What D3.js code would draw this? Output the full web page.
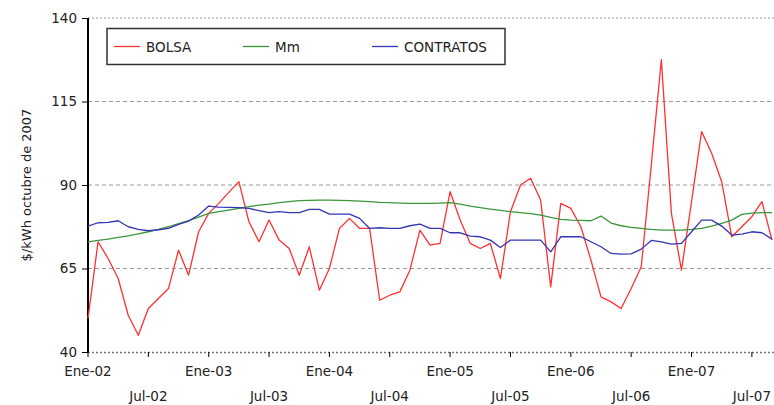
<!DOCTYPE html>
<html>
<head>
<meta charset="utf-8">
<script src="https://cdn.jsdelivr.net/npm/d3@7"></script>
<style>
  body { margin: 0; background: #fff; }
  svg { display: block; font-family: 'DejaVu Sans', Verdana, sans-serif; }
</style>
</head>
<body>
<div id="chart"></div>
<script>
// monthly values, Ene-02 .. Sep-07
const bolsa = [50, 73, 68, 62, 51, 45, 53, 56, 59, 70.5, 63, 76,
  81.5, 84.5, 87.8, 91, 79, 73, 79.5, 73.5, 71, 63, 71.5, 58.5,
  65, 77, 80, 77, 77, 55.5, 57, 58, 64.5, 76.5, 72, 72.5,
  88, 79.5, 72.5, 71, 72.5, 62, 82, 90, 92, 85.5, 59.5, 84.5,
  83, 77.5, 67.5, 56.5, 55, 53, 59, 65.5, 96, 127.5, 81.5, 64.5,
  85, 106, 99.5, 91, 74.5, 77.5, 80.5, 85, 73.5];
const mm = [73, 73.4, 73.8, 74.3, 74.8, 75.4, 76, 76.7, 77.5, 78.4, 79.3, 80.4,
  81.5, 82, 82.5, 83, 83.5, 84, 84.3, 84.7, 85, 85.3, 85.4, 85.5,
  85.5, 85.4, 85.3, 85.2, 85, 84.8, 84.7, 84.6, 84.5, 84.5, 84.5, 84.6,
  84.7, 84.3, 83.7, 83.2, 82.8, 82.4, 82, 81.7, 81.4, 81, 80.3, 79.7,
  79.5, 79.4, 79.3, 80.7, 78.6, 77.8, 77.3, 77, 76.7, 76.5, 76.5, 76.5,
  76.7, 77, 77.7, 78.5, 79.5, 81.2, 81.6, 81.7, 81.7];
const contratos = [77.7, 78.7, 78.8, 79.3, 77.5, 76.7, 76.3, 76.6, 77, 78.2, 79.2, 81,
  83.7, 83.4, 83.3, 83.2, 83, 82.3, 81.7, 82, 81.7, 81.7, 82.7, 82.7,
  81.3, 81.3, 81.3, 80, 77, 77.2, 77, 77, 77.8, 78.3, 77, 77,
  75.7, 75.7, 74.7, 74.5, 73.5, 71.3, 73.5, 73.5, 73.5, 73.5, 70, 74.5,
  74.5, 74.5, 73, 71.5, 69.5, 69.3, 69.4, 70.8, 73.4, 73, 72.3, 72.5,
  76, 79.5, 79.5, 77.7, 75, 75.3, 76, 75.7, 73.8];
const yTicks = [40, 65, 90, 115, 140];
const xTickLabels = ['Ene-02', 'Jul-02', 'Ene-03', 'Jul-03', 'Ene-04', 'Jul-04',
  'Ene-05', 'Jul-05', 'Ene-06', 'Jul-06', 'Ene-07', 'Jul-07'];
const seriesNames = ['BOLSA', 'Mm', 'CONTRATOS'];
const seriesColours = ['#ff3030', '#3a963a', '#3434b4'];

const width = 774, height = 405;
const plotLeft = 88, plotRight = 774, plotTop = 18, plotBottom = 352;

const svg = d3.select('#chart').append('svg')
  .attr('width', width)
  .attr('height', height);

const x = d3.scaleLinear().domain([0, 68]).range([plotLeft, 772]);
const y = d3.scaleLinear().domain([40, 140]).range([plotBottom, plotTop]);

// gridlines
svg.append('g')
  .selectAll('line')
  .data(yTicks.filter(d => d > 40))
  .join('line')
  .attr('x1', plotLeft).attr('x2', plotRight)
  .attr('y1', d => y(d)).attr('y2', d => y(d))
  .style('stroke', '#9a9a9a')
  .style('stroke-width', 1)
  .style('stroke-dasharray', d => d === 140 ? '2,2' : '4,3');

// x axis (dotted baseline + ticks)
svg.append('line')
  .attr('x1', plotLeft).attr('x2', plotRight)
  .attr('y1', plotBottom + 0.5).attr('y2', plotBottom + 0.5)
  .style('stroke', '#777')
  .style('stroke-width', 1.5)
  .style('stroke-dasharray', '2,2');

const xTicks = d3.range(0, 68, 6);
svg.append('g')
  .selectAll('line')
  .data(xTicks)
  .join('line')
  .attr('x1', d => x(d)).attr('x2', d => x(d))
  .attr('y1', plotBottom).attr('y2', plotBottom + 5)
  .style('stroke', '#000')
  .style('stroke-width', 1);

svg.append('g')
  .selectAll('text')
  .data(xTicks)
  .join('text')
  .attr('x', d => x(d))
  .attr('y', (d, i) => i % 2 === 0 ? 376 : 401)
  .attr('text-anchor', 'middle')
  .style('font-size', '13.5px')
  .style('fill', '#222')
  .text((d, i) => xTickLabels[i]);

// y axis
const yAxis = d3.axisLeft(y).tickValues(yTicks).tickSize(6).tickPadding(5);
const gy = svg.append('g')
  .attr('transform', 'translate(' + plotLeft + ',0)')
  .call(yAxis);
gy.select('.domain').remove();
gy.selectAll('.tick line').style('stroke', '#000');
gy.selectAll('.tick text')
  .style('font-size', '13.5px')
  .style('fill', '#222')
  .style('font-family', "'DejaVu Sans', Verdana, sans-serif");
svg.append('line')
  .attr('x1', plotLeft).attr('x2', plotLeft)
  .attr('y1', plotTop).attr('y2', plotBottom)
  .style('stroke', '#000')
  .style('stroke-width', 2);

svg.append('text')
  .attr('transform', 'translate(31,185) rotate(-90)')
  .attr('text-anchor', 'middle')
  .style('font-size', '13px')
  .style('fill', '#222')
  .text('$/kWh octubre de 2007');

// series
const line = d3.line().x((d, i) => x(i)).y(d => y(d));
[bolsa, mm, contratos].forEach((data, k) => {
  svg.append('path')
    .datum(data)
    .attr('d', line)
    .style('fill', 'none')
    .style('stroke', seriesColours[k])
    .style('stroke-width', 1.3)
    .style('stroke-linejoin', 'round');
});

// legend
const legend = svg.append('g');
legend.append('rect')
  .attr('x', 107).attr('y', 28.5)
  .attr('width', 398).attr('height', 36)
  .style('fill', '#fff')
  .style('stroke', '#333')
  .style('stroke-width', 1.5);
const legendX = [114, 243, 372];
seriesNames.forEach((name, k) => {
  legend.append('line')
    .attr('x1', legendX[k]).attr('x2', legendX[k] + 26)
    .attr('y1', 46.5).attr('y2', 46.5)
    .style('stroke', seriesColours[k])
    .style('stroke-width', 1.3);
  legend.append('text')
    .attr('x', legendX[k] + 32).attr('y', 51.5)
    .style('font-size', '13.5px')
    .style('fill', '#222')
    .text(name);
});
</script>
</body>
</html>
